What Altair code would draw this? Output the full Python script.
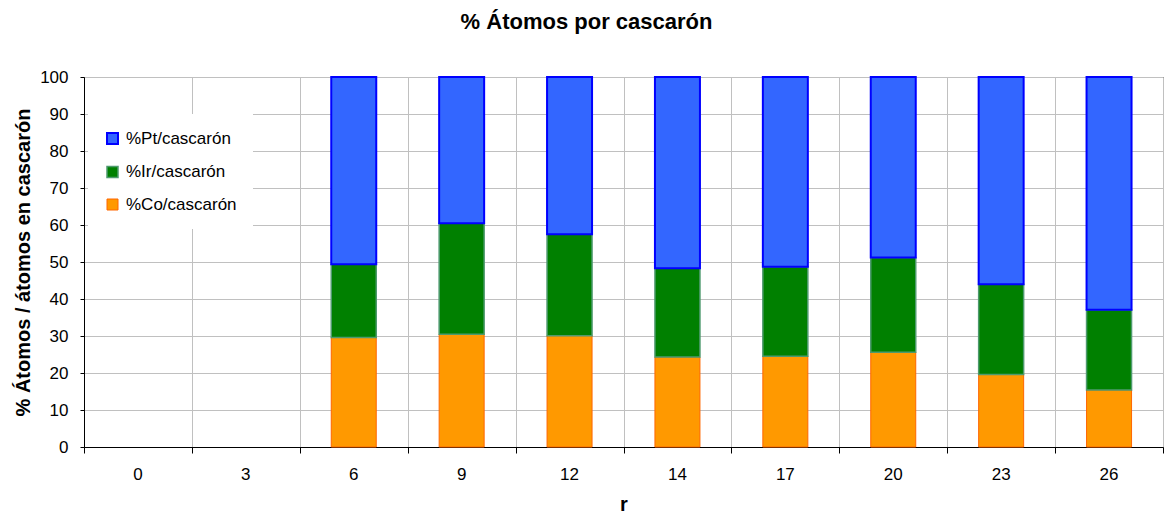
import altair as alt
import pandas as pd

# Shell radii (categories on the x axis)
radios = ["0", "3", "6", "9", "12", "14", "17", "20", "23", "26"]

# Percentage of atoms of each element per shell (None = empty shell)
pct_co = [None, None, 29.6, 30.5, 30.1, 24.3, 24.5, 25.6, 19.6, 15.4]
pct_ir = [None, None, 19.8, 30.0, 27.4, 24.0, 24.2, 25.6, 24.4, 21.7]
pct_pt = [None, None, 50.6, 39.5, 42.5, 51.7, 51.3, 48.8, 56.0, 62.9]

series = ["%Pt/cascarón", "%Ir/cascarón", "%Co/cascarón"]
fills = ["#3366FF", "#008000", "#FF9900"]
strokes = ["#0000FF", "#4E9A6E", "#FF6600"]
stroke_widths = [2, 1, 2]

rows = []
for name, vals, order in [
    ("%Co/cascarón", pct_co, 0),
    ("%Ir/cascarón", pct_ir, 1),
    ("%Pt/cascarón", pct_pt, 2),
]:
    for r, v in zip(radios, vals):
        if v is not None:
            rows.append({"r": r, "serie": name, "pct": v, "orden": order})
df = pd.DataFrame(rows)
cats = pd.DataFrame({"r": radios})

font = "Liberation Sans"

legend = alt.Legend(
    title=None,
    orient="none",
    legendX=4,
    legendY=37,
    padding=16,
    fillColor="#FFFFFF",
    symbolType="square",
    symbolSize=121,
    symbolStrokeWidth=2,
    labelFontSize=17,
    labelColor="#000000",
    labelOffset=5,
    rowPadding=14.5,
)

# Stacked bars; this x axis only carries the centred category labels
bars = alt.Chart(df).mark_bar().encode(
    x=alt.X(
        "r:N",
        sort=radios,
        scale=alt.Scale(domain=radios, paddingInner=0.583, paddingOuter=0.2915),
        axis=alt.Axis(
            title="r",
            orient="bottom",
            labelAngle=0,
            grid=False,
            ticks=False,
            domain=False,
            labelPadding=19,
            labelFontSize=17,
            labelColor="#000000",
            titleFontSize=20,
            titleFontWeight="bold",
            titlePadding=12,
            titleColor="#000000",
        ),
    ),
    y=alt.Y(
        "pct:Q",
        stack="zero",
        scale=alt.Scale(domain=[0, 100], nice=False),
        axis=alt.Axis(
            title="% Átomos / átomos en cascarón",
            values=list(range(0, 101, 10)),
            grid=True,
            gridColor="#C0C0C0",
            gridWidth=1,
            domainColor="#000000",
            tickColor="#000000",
            tickSize=4,
            labelPadding=12,
            labelFontSize=17,
            labelColor="#000000",
            titleFontSize=20,
            titleFontWeight="bold",
            titlePadding=6,
            titleColor="#000000",
        ),
    ),
    fill=alt.Fill("serie:N", scale=alt.Scale(domain=series, range=fills), legend=legend),
    stroke=alt.Stroke("serie:N", scale=alt.Scale(domain=series, range=strokes), legend=legend),
    strokeWidth=alt.StrokeWidth(
        "serie:N",
        scale=alt.Scale(domain=series, range=stroke_widths),
        legend=None,
    ),
    order=alt.Order("orden:Q", sort="ascending"),
)

# Unpadded band scale: its ticks and grid sit on the category boundaries
frontiers = alt.Chart(cats).mark_point(opacity=0).encode(
    x=alt.X(
        "r:N",
        sort=radios,
        scale=alt.Scale(domain=radios, paddingInner=0, paddingOuter=0),
        axis=alt.Axis(
            title=None,
            orient="bottom",
            labels=False,
            tickBand="extent",
            grid=True,
            gridColor="#C0C0C0",
            gridWidth=1,
            domainColor="#000000",
            tickColor="#000000",
            tickSize=6,
        ),
    ),
)

chart = (
    alt.layer(frontiers, bars)
    .resolve_scale(x="independent")
    .resolve_axis(x="independent")
    .properties(
        width=1079,
        height=370,
        title=alt.TitleParams(
            "% Átomos por cascarón",
            fontSize=22,
            fontWeight="bold",
            color="#000000",
            anchor="middle",
            dx=-37,
            offset=34,
        ),
        autosize=alt.AutoSizeParams(type="none"),
        padding={"left": 84, "top": 77, "right": 2, "bottom": 67},
        background="#FFFFFF",
    )
    .configure(font=font)
    .configure_view(stroke="#000000", strokeWidth=1)
)

chart.save("out.html", embed_options={"renderer": "svg", "actions": False})
